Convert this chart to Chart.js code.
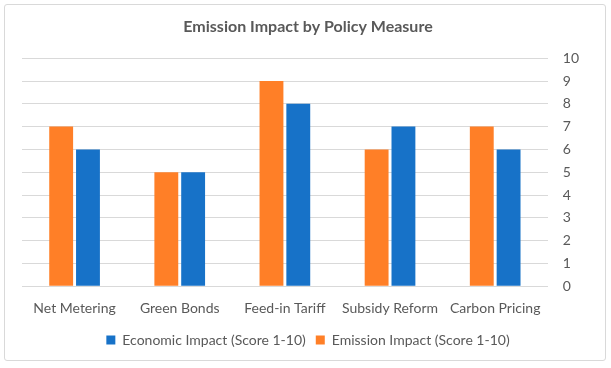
<!DOCTYPE html>
<html>
<head>
<meta charset="utf-8">
<script src="https://cdn.jsdelivr.net/npm/chart.js@4/dist/chart.umd.min.js"></script>
<style>
  html, body { margin: 0; padding: 0; background: #fff; }
  #wrap {
    position: absolute; left: 4px; top: 4px; width: 602px; height: 357px;
    border: 1px solid #d9d9d9; border-radius: 3px; box-sizing: border-box;
  }
  #chart { position: absolute; left: 0; top: 0; }
</style>
</head>
<body>
<div id="wrap"><canvas id="chart" width="600" height="355"></canvas></div>
<script>
  // categorias y series
  const categorias = ["Net Metering", "Green Bonds", "Feed-in Tariff", "Subsidy Reform", "Carbon Pricing"];
  const emisiones = [7, 5, 9, 6, 7];
  const economico = [6, 5, 8, 7, 6];

  const grisTexto = "#595959";
  const fuente = "Lato, 'Open Sans', sans-serif";

  let canvas = document.getElementById("chart").getContext("2d");

  let chart = new Chart(canvas, {
    type: "bar",
    data: {
      labels: categorias,
      datasets: [{
        label: "Emission Impact (Score 1-10)",
        backgroundColor: "#ff7f27",
        data: emisiones,
        categoryPercentage: 0.51,
        barPercentage: 0.89
      }, {
        label: "Economic Impact (Score 1-10)",
        backgroundColor: "#1772c8",
        data: economico,
        categoryPercentage: 0.51,
        barPercentage: 0.89
      }]
    },
    options: {
      responsive: false,
      animation: false,
      layout: { padding: { left: 17, right: 11, top: 2, bottom: 3 } },
      plugins: {
        title: {
          display: true,
          text: "Emission Impact by Policy Measure",
          color: grisTexto,
          font: { family: fuente, size: 16, weight: "bold" },
          padding: { top: 10, bottom: 22 }
        },
        legend: {
          position: "bottom",
          reverse: true,
          labels: {
            color: grisTexto,
            font: { family: fuente, size: 14 },
            boxWidth: 9,
            boxHeight: 9,
            padding: 10
          }
        },
        tooltip: { enabled: false }
      },
      scales: {
        x: {
          grid: { display: false },
          border: { display: false },
          ticks: { color: grisTexto, font: { family: fuente, size: 14 }, padding: 6 },
          afterFit: (s) => { s.paddingLeft = 0; s.paddingRight = 0; }
        },
        y: {
          position: "right",
          min: 0,
          max: 10,
          ticks: { stepSize: 1, color: grisTexto, font: { family: fuente, size: 14 }, padding: 15 },
          grid: { color: "#d9d9d9", lineWidth: 1, drawTicks: false },
          border: { display: false }
        }
      }
    }
  });
</script>
</body>
</html>
